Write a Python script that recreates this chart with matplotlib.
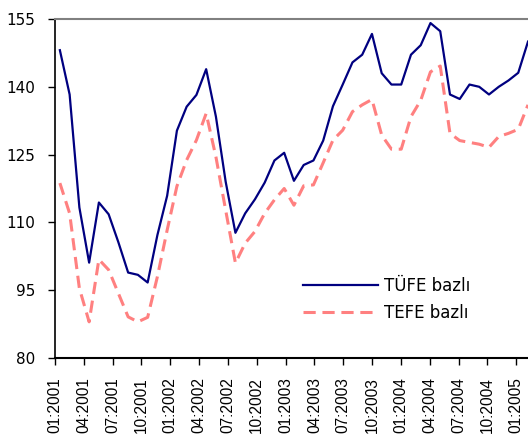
import matplotlib
matplotlib.use('Agg')
from matplotlib import pyplot as plt
import numpy as np

# aylik seriler, 01:2001 - 01:2005
tufe = [148.1, 138.3, 113.3, 101.1, 114.4, 111.8, 105.6, 98.9, 98.4, 96.7,
        107.2, 115.9, 130.3, 135.6, 138.2, 143.9, 133.4, 119.0, 107.7, 112.0,
        115.1, 118.8, 123.7, 125.4, 119.2, 122.7, 123.7, 128.1, 135.7, 140.5,
        145.4, 147.1, 151.7, 143.0, 140.5, 140.5, 147.1, 149.2, 154.1, 152.3,
        138.3, 137.3, 140.5, 140.0, 138.3, 140.0, 141.4, 143.1, 150.0]
tefe = [118.7, 112.0, 95.4, 88.0, 101.8, 99.5, 94.3, 89.1, 88.0, 89.0,
        98.0, 108.3, 118.0, 123.8, 128.2, 134.1, 124.5, 112.7, 101.0, 105.4,
        108.0, 112.0, 115.0, 117.5, 113.8, 118.1, 118.3, 123.2, 128.2, 130.4,
        134.5, 136.0, 137.2, 129.3, 126.2, 126.2, 133.4, 137.0, 143.3, 144.6,
        129.7, 128.1, 127.7, 127.3, 126.6, 129.0, 129.7, 130.6, 136.0]
tick_labels = ['01:2001', '04:2001', '07:2001', '10:2001',
               '01:2002', '04:2002', '07:2002', '10:2002',
               '01:2003', '04:2003', '07:2003', '10:2003',
               '01:2004', '04:2004', '07:2004', '10:2004', '01:2005']
y_ticks = [80, 95, 110, 125, 140, 155]

fig = plt.figure(figsize=(5.28, 4.46), dpi=100)
ax = fig.add_axes([55 / 528, 88 / 446, 473 / 528, 339 / 446])

x = np.arange(len(tufe))
ax.plot(x, tufe, color='#000080', lw=1.6, label='TÜFE bazlı')
ax.plot(x, tefe, color='#FF8080', lw=2.2, dashes=(4, 2.2), label='TEFE bazlı')

ax.set_xlim(-0.5, len(tufe) - 1)
ax.set_ylim(80, 155)
ax.set_yticks(y_ticks)
ax.set_yticklabels([str(v) for v in y_ticks], fontsize=11, fontfamily='DejaVu Sans')
# etiketler biraz sikisik yerlestirilmis (orijinaldeki gibi)
ax.set_xticks(np.linspace(-0.5, len(tufe) - 2.2, len(tick_labels)))
ax.set_xticklabels(tick_labels, rotation=90, fontsize=11.2, fontfamily='Liberation Sans')
ax.tick_params(axis='y', direction='out', length=5, width=1, pad=9)
ax.tick_params(axis='x', direction='out', length=5, width=1, pad=9)

ax.spines['right'].set_visible(False)
ax.spines['top'].set_color('#808080')
ax.spines['top'].set_linewidth(1.5)
ax.spines['left'].set_linewidth(1.2)
ax.spines['bottom'].set_linewidth(1.5)

leg = ax.legend(loc='upper left', bbox_to_anchor=(248 / 473, 1 - 258 / 339),
                frameon=False, fontsize=12, handlelength=4.5, handletextpad=0.35,
                labelspacing=0.55, borderpad=0, borderaxespad=0)
for t in leg.get_texts():
    t.set_fontfamily('DejaVu Sans')

fig.savefig('out.png', dpi=100)
